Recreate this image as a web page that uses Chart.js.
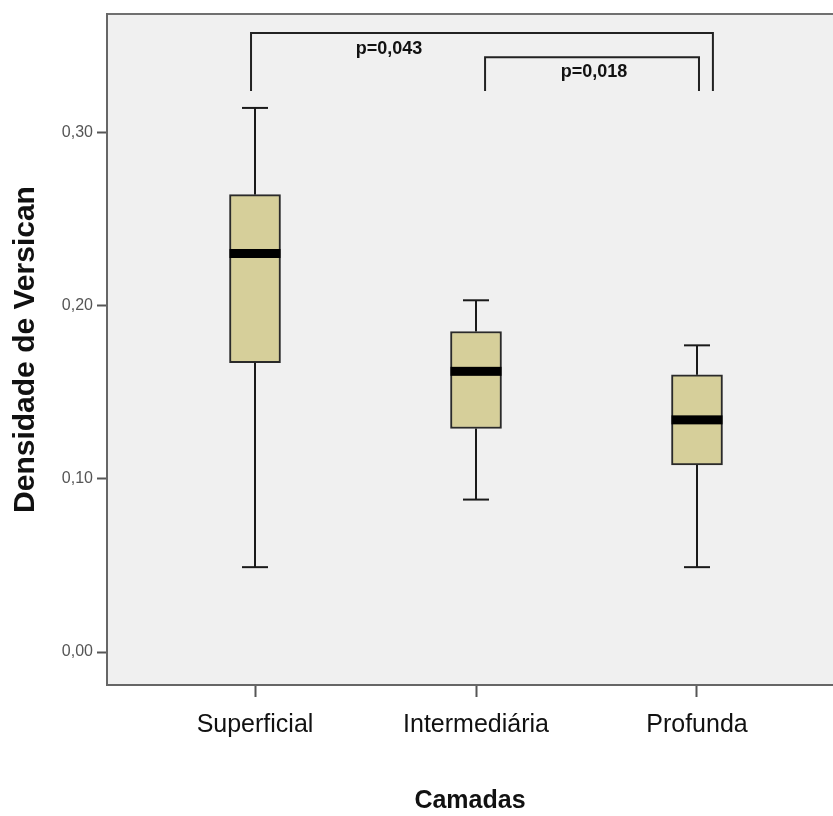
<!DOCTYPE html>
<html>
<head>
<meta charset="utf-8">
<script src="https://cdn.jsdelivr.net/npm/chart.js@4.4.1/dist/chart.umd.min.js"></script>
<style>
  html, body { margin: 0; padding: 0; background: #ffffff; }
  #wrap { width: 833px; height: 816px; }
</style>
</head>
<body>
<div id="wrap"><canvas id="chart" width="833" height="816"></canvas></div>
<script>
// Versican density per layer (box plot summary)
const categories = ["Superficial", "Intermediária", "Profunda"];
const minValues = [0.049, 0.088, 0.049];
const q1Values = [0.167, 0.129, 0.108];
const medianValues = [0.230, 0.162, 0.134];
const q3Values = [0.264, 0.185, 0.160];
const maxValues = [0.314, 0.203, 0.177];
const yTicks = [0, 0.1, 0.2, 0.3];

// significance brackets between layers
const comparisons = [
    { x1: 0.982, x2: 3.072, yTop: 0.3572, yBottom: 0.3237, label: "p=0,043", labelX: 1.606, labelY: 0.348 },
    { x1: 2.041, x2: 3.009, yTop: 0.3433, yBottom: 0.3237, label: "p=0,018", labelX: 2.534, labelY: 0.3347 },
];

const FONT = "'Liberation Sans', Arial, sans-serif";

const boxPlotExtras = {
    id: "boxPlotExtras",
    beforeDraw(chart) {
        const { ctx, chartArea } = chart;
        ctx.save();
        ctx.fillStyle = "#f0f0f0";
        ctx.fillRect(chartArea.left, chartArea.top, chartArea.right - chartArea.left, chartArea.bottom - chartArea.top);
        ctx.strokeStyle = "#707070";
        ctx.lineWidth = 2;
        ctx.beginPath();
        ctx.moveTo(chartArea.left, chartArea.top);
        ctx.lineTo(chartArea.right, chartArea.top);
        ctx.stroke();
        ctx.restore();
    },
    afterDatasetsDraw(chart) {
        const { ctx } = chart;
        const xs = chart.scales.x;
        const ys = chart.scales.y;
        ctx.save();

        // whiskers and caps
        ctx.strokeStyle = "#1a1a1a";
        ctx.lineWidth = 2;
        const capHalf = 13;
        categories.forEach((c, i) => {
            const px = xs.getPixelForValue(i + 1);
            const segs = [[maxValues[i], q3Values[i]], [q1Values[i], minValues[i]]];
            segs.forEach(([a, b]) => {
                ctx.beginPath();
                ctx.moveTo(px, ys.getPixelForValue(a));
                ctx.lineTo(px, ys.getPixelForValue(b));
                ctx.stroke();
            });
            [maxValues[i], minValues[i]].forEach((v) => {
                const py = ys.getPixelForValue(v);
                ctx.beginPath();
                ctx.moveTo(px - capHalf, py);
                ctx.lineTo(px + capHalf, py);
                ctx.stroke();
            });
        });

        // medians
        ctx.fillStyle = "#000000";
        const medHalf = 25.5;
        categories.forEach((c, i) => {
            const px = xs.getPixelForValue(i + 1);
            const py = ys.getPixelForValue(medianValues[i]);
            ctx.fillRect(px - medHalf, py - 4.5, medHalf * 2, 9);
        });

        // brackets with p-values
        ctx.strokeStyle = "#222222";
        ctx.lineWidth = 2;
        comparisons.forEach((cmp) => {
            const xa = xs.getPixelForValue(cmp.x1);
            const xb = xs.getPixelForValue(cmp.x2);
            const yt = ys.getPixelForValue(cmp.yTop);
            const yb = ys.getPixelForValue(cmp.yBottom);
            ctx.beginPath();
            ctx.moveTo(xa, yb);
            ctx.lineTo(xa, yt);
            ctx.lineTo(xb, yt);
            ctx.lineTo(xb, yb);
            ctx.stroke();
        });
        ctx.fillStyle = "#111111";
        ctx.font = "bold 18px " + FONT;
        ctx.textAlign = "center";
        ctx.textBaseline = "middle";
        comparisons.forEach((cmp) => {
            ctx.fillText(cmp.label, xs.getPixelForValue(cmp.labelX), ys.getPixelForValue(cmp.labelY));
        });
        ctx.restore();
    },
};

new Chart(document.getElementById("chart").getContext("2d"), {
    type: "bar",
    data: {
        datasets: [{
            data: categories.map((c, i) => ({ x: i + 1, y: [q1Values[i], q3Values[i]] })),
            backgroundColor: "#d6cf9a",
            borderColor: "#2a2a2a",
            borderWidth: 2,
            borderSkipped: false,
            barThickness: 51,
        }],
    },
    options: {
        responsive: false,
        animation: false,
        layout: { padding: { top: 14, right: 0, left: 0, bottom: 0 } },
        plugins: {
            legend: { display: false },
            tooltip: { enabled: false },
        },
        scales: {
            x: {
                type: "linear",
                min: 0.3303,
                max: 3.6154,
                offset: false,
                afterBuildTicks: (s) => { s.ticks = categories.map((c, i) => ({ value: i + 1 })); },
                afterFit: (s) => { s.height = 131; },
                ticks: {
                    callback: (v) => categories[v - 1],
                    color: "#111111",
                    font: { family: FONT, size: 25 },
                    padding: 13,
                },
                grid: { offset: false, drawOnChartArea: false, tickLength: 12, tickColor: "#555555", tickWidth: 2 },
                border: { color: "#666666", width: 2 },
                title: {
                    display: true,
                    text: "Camadas",
                    color: "#111111",
                    font: { family: FONT, size: 25, weight: "bold" },
                    padding: { top: 0, bottom: 0 },
                },
            },
            y: {
                min: -0.019,
                max: 0.3682,
                afterBuildTicks: (s) => { s.ticks = yTicks.map((v) => ({ value: v })); },
                afterFit: (s) => { s.width = 107; },
                ticks: {
                    callback: (v) => v.toFixed(2).replace(".", ","),
                    color: "#555555",
                    font: { family: FONT, size: 16 },
                    padding: 4,
                },
                grid: { drawOnChartArea: false, tickLength: 10, tickColor: "#555555", tickWidth: 2 },
                border: { color: "#666666", width: 2 },
                title: {
                    display: true,
                    text: "Densidade de Versican",
                    color: "#111111",
                    font: { family: FONT, size: 30, weight: "bold" },
                    padding: { top: 8, bottom: 0 },
                },
            },
        },
    },
    plugins: [boxPlotExtras],
});
</script>
</body>
</html>
